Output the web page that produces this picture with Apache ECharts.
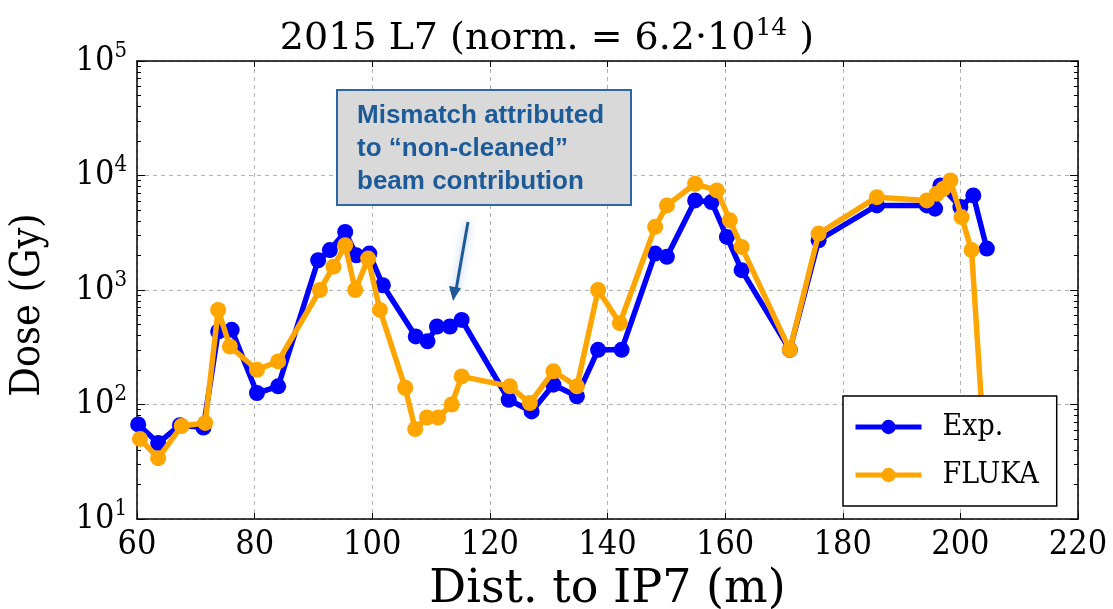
<!DOCTYPE html>
<html>
<head>
<meta charset="utf-8">
<script src="https://cdn.jsdelivr.net/npm/echarts@6/dist/echarts.min.js"></script>
<style>html,body{margin:0;padding:0;background:#fff;}#c{width:1113px;height:609px;}</style>
</head>
<body>
<div id="c"></div>
<script>
// Data
const expX = [60.2, 63.6, 67.3, 71.3, 73.8, 76.1, 80.4, 84.0, 90.8, 92.8, 95.4, 97.3, 99.5, 101.8, 107.4, 109.4, 111.0, 113.2, 115.2, 123.2, 127.1, 130.8, 134.8, 138.4, 142.4, 148.1, 150.1, 154.9, 157.7, 160.3, 162.8, 171.0, 175.9, 185.8, 194.3, 195.7, 196.6, 200.0, 202.2, 204.5];
const expY = [67, 46, 66, 63, 434, 449, 126, 144, 1820, 2230, 3210, 2010, 2080, 1100, 393, 356, 480, 480, 548, 110, 87, 149, 118, 300, 300, 2080, 1950, 6060, 5870, 2910, 1490, 300, 2720, 5480, 5480, 5130, 8190, 5310, 6700, 2300];
const flukaX = [60.5, 63.6, 67.6, 71.6, 73.8, 75.8, 80.4, 84.0, 91.1, 93.4, 95.4, 97.1, 99.3, 101.3, 105.6, 107.3, 109.3, 111.2, 113.5, 115.2, 123.4, 126.8, 130.8, 134.8, 138.4, 142.1, 148.1, 150.1, 154.9, 158.6, 160.8, 162.8, 171.0, 175.9, 185.8, 194.3, 196.0, 197.1, 198.3, 200.2, 201.9, 204.6];
const flukaY = [50, 34, 65, 69, 670, 321, 201, 238, 1000, 1600, 2460, 1000, 1880, 670, 140, 61, 77, 77, 100, 176, 144, 103, 195, 144, 1000, 513, 3560, 5480, 8470, 7410, 4060, 2380, 300, 3110, 6470, 6060, 6930, 7660, 9060, 4330, 2230, 16];
const seriesNames = ['Exp.', 'FLUKA'];
const xTicks = [60, 80, 100, 120, 140, 160, 180, 200, 220];
const yTickExponents = [1, 2, 3, 4, 5];
const titleText = '2015 L7 (norm. = 6.2\u00b710';
const titleExp = '14';
const xLabel = 'Dist. to IP7 (m)';
const yLabel = 'Dose (Gy)';
const noteLines = ['Mismatch attributed', 'to \u201cnon-cleaned\u201d', 'beam contribution'];

const SERIF = '"DejaVu Serif Condensed", "DejaVu Serif", serif';
const SERIF_WIDE = '"DejaVu Serif", serif';
const zip = (xs, ys) => xs.map((x, i) => [x, ys[i]]);

const chart = echarts.init(document.getElementById('c'));
const splitLine = { show: true, lineStyle: { color: '#b0b0b0', type: [4, 4], width: 1 } };
const axisLine = { show: true, onZero: false, lineStyle: { color: '#000', width: 1.5 } };

chart.setOption({
  animation: false,
  backgroundColor: '#fff',
  title: {
    text: '{t|' + titleText + '}{s|' + titleExp + '}{t| )}',
    left: 542, top: 11, textAlign: 'center',
    textStyle: {
      fontWeight: 'normal',
      rich: {
        t: { fontFamily: SERIF_WIDE, fontSize: 38, color: '#000', fontWeight: 'normal' },
        s: { fontFamily: SERIF_WIDE, fontSize: 25, color: '#000', fontWeight: 'normal', padding: [0, 0, 22, 0] }
      }
    }
  },
  grid: { left: 137, right: 35, top: 61, bottom: 90, outerBoundsMode: 'none', containLabel: false },
  xAxis: [{
    type: 'value', min: 60, max: 220, interval: 20, position: 'bottom',
    name: xLabel, nameLocation: 'middle', nameGap: 46,
    nameTextStyle: { fontFamily: SERIF_WIDE, fontSize: 46, color: '#000' },
    axisLine: axisLine,
    axisTick: { show: true, inside: true, length: 6, lineStyle: { color: '#000', width: 1 } },
    axisLabel: { fontFamily: SERIF, fontSize: 34, color: '#000', margin: 9,
      formatter: v => xTicks.includes(v) ? String(v) : '' },
    splitLine: splitLine
  }, {
    type: 'value', min: 60, max: 220, interval: 20, position: 'top',
    axisLine: axisLine,
    axisTick: { show: true, inside: true, length: 6, lineStyle: { color: '#000', width: 1 } },
    axisLabel: { show: false }, splitLine: { show: false }
  }],
  yAxis: [{
    type: 'log', logBase: 10, min: 10, max: 100000, position: 'left',
    name: yLabel, nameLocation: 'middle', nameGap: 88, nameRotate: 90,
    nameTextStyle: { fontFamily: SERIF, fontSize: 41, color: '#000', padding: [0, 30, 0, 0] },
    axisLine: axisLine,
    axisTick: { show: true, inside: true, length: 8, lineStyle: { color: '#000', width: 1 } },
    minorTick: { show: true, splitNumber: 9, length: 4, lineStyle: { color: '#000', width: 1 } },
    axisLabel: {
      margin: 10, color: '#000',
      formatter: v => {
        const e = Math.round(Math.log10(v));
        return yTickExponents.includes(e) ? '{b|10}{s|' + e + '}' : '';
      },
      rich: {
        b: { fontFamily: SERIF, fontSize: 34, color: '#000' },
        s: { fontFamily: SERIF, fontSize: 22, color: '#000', padding: [0, 0, 20, 0] }
      }
    },
    splitLine: splitLine
  }, {
    type: 'log', logBase: 10, min: 10, max: 100000, position: 'right',
    axisLine: axisLine,
    axisTick: { show: true, inside: true, length: 8, lineStyle: { color: '#000', width: 1 } },
    minorTick: { show: true, splitNumber: 9, length: 4, lineStyle: { color: '#000', width: 1 } },
    axisLabel: { show: false }, splitLine: { show: false }
  }],
  legend: {
    orient: 'vertical', left: 843, top: 396, width: 222,
    padding: [16, 18, 16, 10],
    backgroundColor: '#fff', borderColor: '#000', borderWidth: 1.5, borderRadius: 0,
    itemWidth: 66, itemHeight: 18, itemGap: 18,
    lineStyle: { width: 5 },
    itemStyle: { borderWidth: 0 },
    textStyle: { fontFamily: SERIF, fontSize: 30, color: '#000', padding: [0, 0, 0, 16] },
    data: seriesNames, z: 10
  },
  series: [{
    name: seriesNames[0], type: 'line', data: zip(expX, expY),
    symbol: 'circle', symbolSize: 16, clip: true,
    lineStyle: { color: '#0000ff', width: 5.5 }, itemStyle: { color: '#0000ff' }, z: 2
  }, {
    name: seriesNames[1], type: 'line', data: zip(flukaX, flukaY),
    symbol: 'circle', symbolSize: 16, clip: true,
    lineStyle: { color: '#ffa500', width: 5.5 }, itemStyle: { color: '#ffa500' }, z: 3
  }],
  graphic: [{
    type: 'rect', z: 20,
    shape: { x: 337, y: 90, width: 294, height: 115 },
    style: { fill: '#d9d9d9', stroke: '#2a67a3', lineWidth: 2 }
  }, {
    type: 'text', z: 21, x: 357, y: 99,
    style: { text: noteLines.join('\n'), font: 'bold 26px "Liberation Sans", Arial, sans-serif',
      fill: '#1d5a98', lineHeight: 33 }
  }, {
    type: 'line', z: 20,
    shape: { x1: 468, y1: 222, x2: 456, y2: 290 },
    style: { stroke: '#1d5a98', lineWidth: 3, shadowBlur: 8, shadowColor: 'rgba(100,140,220,0.6)' }
  }, {
    type: 'polygon', z: 20,
    shape: { points: [[453, 301], [449, 286], [461, 288]] },
    style: { fill: '#1d5a98' }
  }]
});
</script>
</body>
</html>
